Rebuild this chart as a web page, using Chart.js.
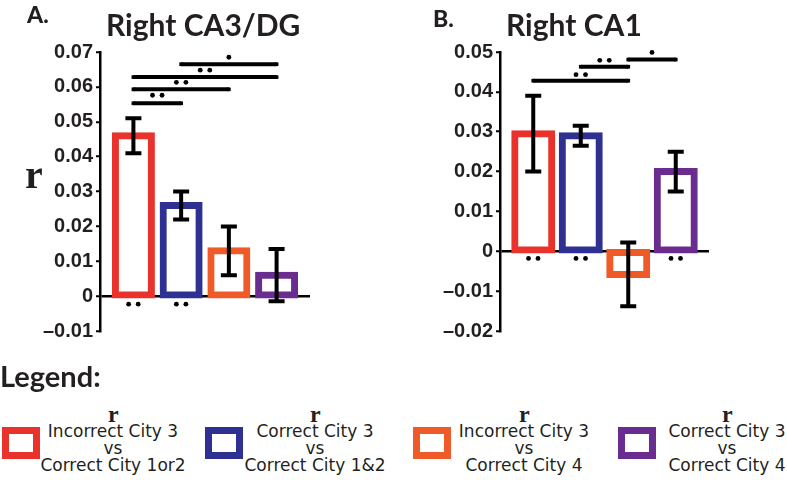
<!DOCTYPE html>
<html>
<head>
<meta charset="utf-8">
<script src="https://cdn.jsdelivr.net/npm/chart.js@4.4.1/dist/chart.umd.min.js"></script>
<style>
  body { margin: 0; width: 787px; height: 480px; position: relative; background: #fff; overflow: hidden; }
  .wrap { position: absolute; top: 0; height: 360px; }
  .txt { position: absolute; white-space: nowrap; line-height: 1; color: #231f20; }
  .head { font-family: Lato, sans-serif; font-weight: 700; }
  .panel_tag { font-family: Lato, sans-serif; font-weight: 900; font-size: 23px; }
  .serif_r { font-family: "Liberation Serif", serif; font-weight: 700; }
  .leg_box { position: absolute; width: 38px; height: 32px; box-sizing: border-box; border: 7px solid; }
  .leg_text { position: absolute; text-align: center; font-family: "DejaVu Sans", sans-serif; font-size: 17px; line-height: 17px; color: #231f20; }
</style>
</head>
<body>
<div class="wrap" style="left:0;width:390px"><canvas id="chart_ca3"></canvas></div>
<div class="wrap" style="left:390px;width:397px"><canvas id="chart_ca1"></canvas></div>

<div class="txt panel_tag" style="left:27px;top:3px">A.</div>
<div class="txt head" style="left:106px;top:9px;font-size:30px">Right CA3/DG</div>
<div class="txt panel_tag" style="left:433px;top:7px">B.</div>
<div class="txt head" style="left:506px;top:9px;font-size:30px">Right CA1</div>
<div class="txt serif_r" style="left:25px;top:155px;font-size:40px">r</div>

<div class="txt head" style="left:0px;top:361px;font-size:29px">Legend:</div>
<div id="legend"></div>

<script>
// categories and colours
const categories = [
    ['Incorrect City 3', 'vs', 'Correct City 1or2'],
    ['Correct City 3', 'vs', 'Correct City 1&2'],
    ['Incorrect City 3', 'vs', 'Correct City 4'],
    ['Correct City 3', 'vs', 'Correct City 4'],
];
const bar_colors = ['#e8322b', '#2e3192', '#f05a28', '#6b2c8f'];

// Right CA3/DG
const ca3_means = [0.046, 0.026, 0.013, 0.006];
const ca3_err = [0.005, 0.004, 0.007, 0.0075];
const ca3_ticks = [-0.01, 0, 0.01, 0.02, 0.03, 0.04, 0.05, 0.06, 0.07];
const ca3_sig_from = [1, 1, 1, 2];
const ca3_sig_to = [2, 3, 4, 4];
const ca3_sig_line = [0.0553, 0.0593, 0.0628, 0.0665];
const ca3_sig_dot = [0.0576, 0.0613, 0.0648, 0.0685];
const ca3_sig_stars = [2, 2, 2, 1];
const ca3_below_stars = [2, 2, 0, 0];
const ca3_below_y = -0.0023;

// Right CA1
const ca1_means = [0.0295, 0.029, -0.0058, 0.020];
const ca1_err = [0.0095, 0.0025, 0.008, 0.005];
const ca1_ticks = [-0.02, -0.01, 0, 0.01, 0.02, 0.03, 0.04, 0.05];
const ca1_sig_from = [1, 2, 3];
const ca1_sig_to = [3, 3, 4];
const ca1_sig_line = [0.0428, 0.0463, 0.0481];
const ca1_sig_dot = [0.0443, 0.0479, 0.0499];
const ca1_sig_stars = [2, 2, 1];
const ca1_below_stars = [2, 2, 0, 2];
const ca1_below_y = -0.0018;

function star_points(x_mid, y, count) {
    if (count === 1) {
        return [{ x: x_mid, y: y }];
    }
    if (count === 2) {
        return [{ x: x_mid - 0.1, y: y }, { x: x_mid + 0.1, y: y }];
    }
    return [];
}

const error_bar_plugin = {
    id: 'error_bars',
    afterDatasetsDraw(chart, args, opts) {
        const ctx = chart.ctx;
        const xs = chart.scales.x;
        const ys = chart.scales.y;
        ctx.save();
        ctx.strokeStyle = '#000';
        ctx.lineWidth = 4;
        opts.means.forEach((m, i) => {
            const px = xs.getPixelForValue(i + 1);
            const top = ys.getPixelForValue(m + opts.err[i]);
            const bot = ys.getPixelForValue(m - opts.err[i]);
            ctx.beginPath();
            ctx.moveTo(px, top);
            ctx.lineTo(px, bot);
            ctx.moveTo(px - 8, top);
            ctx.lineTo(px + 8, top);
            ctx.moveTo(px - 8, bot);
            ctx.lineTo(px + 8, bot);
            ctx.stroke();
        });
        ctx.restore();
    },
};

function fmt_tick(v) {
    if (Math.abs(v) < 1e-9) {
        return '0';
    }
    if (v < 0) {
        return '\u2013' + Math.abs(v).toFixed(2);
    }
    return v.toFixed(2);
}

function build_chart(canvas_id, cfg) {
    const datasets = [];

    datasets.push({
        type: 'bar',
        data: cfg.means.map((m, i) => ({ x: i + 1, y: m })),
        backgroundColor: '#ffffff',
        borderColor: bar_colors,
        borderWidth: 7,
        borderSkipped: false,
        inflateAmount: 3.5,
        barThickness: cfg.bar_w,
        clip: false,
        order: 2,
    });

    cfg.sig_line.forEach((h, i) => {
        datasets.push({
            type: 'line',
            data: [{ x: cfg.sig_from[i], y: h }, { x: cfg.sig_to[i], y: h }],
            borderColor: '#000',
            borderWidth: 4,
            pointStyle: 'rect',
            pointRadius: 2.6,
            pointBackgroundColor: '#000',
            pointBorderWidth: 0,
            clip: false,
            order: 1,
        });
    });

    let dots = [];
    cfg.sig_dot.forEach((h, i) => {
        const mid = (cfg.sig_from[i] + cfg.sig_to[i]) / 2;
        dots = dots.concat(star_points(mid, h, cfg.sig_stars[i]));
    });
    cfg.below_stars.forEach((n, i) => {
        dots = dots.concat(star_points(i + 1, cfg.below_y, n));
    });
    datasets.push({
        type: 'scatter',
        data: dots,
        pointRadius: 2.4,
        pointBackgroundColor: '#000',
        pointBorderWidth: 0,
        clip: false,
        order: 0,
    });

    return new Chart(document.getElementById(canvas_id).getContext('2d'), {
        type: 'bar',
        data: { datasets: datasets },
        plugins: [error_bar_plugin],
        options: {
            responsive: true,
            maintainAspectRatio: false,
            animation: false,
            layout: { padding: cfg.padding },
            plugins: {
                legend: { display: false },
                tooltip: { enabled: false },
                error_bars: { means: cfg.means, err: cfg.err },
            },
            scales: {
                x: {
                    type: 'linear',
                    min: 0.3,
                    max: 4.7,
                    offset: false,
                    display: false,
                },
                y: {
                    min: cfg.ticks[0],
                    max: cfg.ticks[cfg.ticks.length - 1],
                    afterBuildTicks: (scale) => {
                        scale.ticks = cfg.ticks.map((v) => ({ value: v }));
                    },
                    afterFit: (scale) => {
                        scale.width = cfg.axis_x;
                    },
                    border: { display: true, color: '#000', width: 2.5 },
                    grid: {
                        color: (c) => (c.tick && Math.abs(c.tick.value) < 1e-9 ? '#000' : 'rgba(0,0,0,0)'),
                        lineWidth: 2.5,
                        tickColor: '#000',
                        tickWidth: 2,
                        tickLength: 4,
                    },
                    ticks: {
                        color: '#231f20',
                        padding: 3,
                        font: { family: '"Liberation Sans", Arial, sans-serif', size: 20, weight: 'bold' },
                        callback: (v) => fmt_tick(v),
                    },
                },
            },
        },
    });
}

build_chart('chart_ca3', {
    means: ca3_means,
    err: ca3_err,
    ticks: ca3_ticks,
    sig_from: ca3_sig_from,
    sig_to: ca3_sig_to,
    sig_line: ca3_sig_line,
    sig_dot: ca3_sig_dot,
    sig_stars: ca3_sig_stars,
    below_stars: ca3_below_stars,
    below_y: ca3_below_y,
    bar_w: 36,
    axis_x: 100,
    padding: { left: 0, top: 52, right: 80, bottom: 29 },
});

build_chart('chart_ca1', {
    means: ca1_means,
    err: ca1_err,
    ticks: ca1_ticks,
    sig_from: ca1_sig_from,
    sig_to: ca1_sig_to,
    sig_line: ca1_sig_line,
    sig_dot: ca1_sig_dot,
    sig_stars: ca1_sig_stars,
    below_stars: ca1_below_stars,
    below_y: ca1_below_y,
    bar_w: 37,
    axis_x: 110,
    padding: { left: 0, top: 52, right: 78, bottom: 29 },
});

// legend below the panels
const legend_box_x = [2, 205, 413, 618];
const legend_text_x = [113, 315, 524, 727];
const legend_el = document.getElementById('legend');
categories.forEach((lines, i) => {
    const box = document.createElement('div');
    box.className = 'leg_box';
    box.style.left = legend_box_x[i] + 'px';
    box.style.top = '427px';
    box.style.borderColor = bar_colors[i];
    legend_el.appendChild(box);

    const r = document.createElement('div');
    r.className = 'txt serif_r';
    r.style.fontSize = '24px';
    r.style.left = (legend_text_x[i] - 5) + 'px';
    r.style.top = '402px';
    r.textContent = 'r';
    legend_el.appendChild(r);

    const t = document.createElement('div');
    t.className = 'leg_text';
    t.style.left = (legend_text_x[i] - 90) + 'px';
    t.style.width = '180px';
    t.style.top = '423px';
    t.innerHTML = lines.join('<br>');
    legend_el.appendChild(t);
});
</script>
</body>
</html>
